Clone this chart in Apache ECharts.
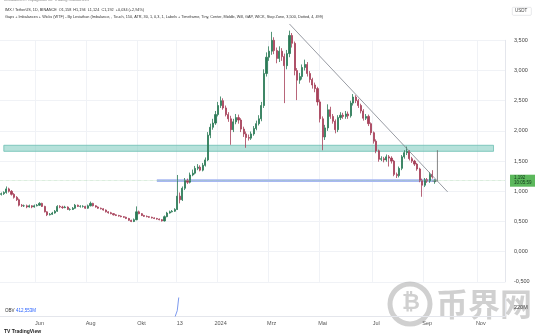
<!DOCTYPE html>
<html>
<head>
<meta charset="utf-8">
<script src="https://cdn.jsdelivr.net/npm/echarts@6/dist/echarts.min.js"></script>
<style>
  html, body { margin: 0; padding: 0; background: #ffffff; }
  #chart { width: 540px; height: 336px; }
</style>
</head>
<body>
<div id="chart"></div>
<script>
// IMX / TetherUS — price bars grouped in 3-day steps
const startDate = '2023-04-17';
const stepDays = 3;
const slotCount = 198;

const opens = [
  0.95,0.96,0.98,1.04,1.00,0.95,0.90,0.86,0.77,0.76,
  0.76,0.74,0.76,0.74,0.76,0.77,0.80,0.75,0.66,0.61,
  0.62,0.64,0.67,0.75,0.74,0.73,0.74,0.70,0.70,0.72,
  0.77,0.75,0.75,0.75,0.72,0.76,0.80,0.76,0.74,0.72,
  0.71,0.69,0.66,0.645,0.63,0.61,0.60,0.59,0.58,0.57,
  0.55,0.52,0.50,0.53,0.66,0.63,0.60,0.585,0.58,0.57,
  0.56,0.55,0.54,0.53,0.51,0.58,0.64,0.66,0.67,0.70,
  0.92,0.86,1.05,1.18,1.15,1.27,1.30,1.38,1.40,1.35,
  1.43,1.52,1.93,2.06,2.13,2.27,2.42,2.50,2.38,2.27,
  2.20,2.02,2.15,2.22,2.18,2.03,1.95,1.89,1.88,1.95,
  2.04,2.12,2.20,2.42,2.95,3.22,3.32,3.50,3.33,3.20,
  3.32,3.23,3.08,3.28,3.58,3.45,3.00,2.84,2.90,3.05,
  3.10,2.95,2.85,2.76,2.70,2.48,2.20,1.90,2.05,2.35,
  2.24,2.16,2.02,2.22,2.26,2.24,2.28,2.25,2.46,2.56,
  2.50,2.42,2.33,2.21,2.24,2.12,1.97,1.83,1.67,1.53,
  1.54,1.52,1.57,1.55,1.50,1.28,1.26,1.38,1.57,1.64,
  1.66,1.54,1.50,1.45,1.37,1.18,1.10,1.19,1.17,1.28,
  1.158
];
const closes = [
  0.96,0.98,1.04,1.00,0.95,0.90,0.86,0.77,0.76,0.76,
  0.74,0.76,0.74,0.76,0.77,0.80,0.75,0.66,0.61,0.62,
  0.64,0.67,0.75,0.74,0.73,0.74,0.70,0.70,0.72,0.77,
  0.75,0.75,0.75,0.72,0.76,0.80,0.76,0.74,0.72,0.71,
  0.69,0.66,0.645,0.63,0.61,0.60,0.59,0.58,0.57,0.55,
  0.52,0.50,0.53,0.66,0.63,0.60,0.585,0.58,0.57,0.56,
  0.55,0.54,0.53,0.51,0.58,0.64,0.66,0.67,0.70,0.92,
  0.86,1.05,1.18,1.15,1.27,1.30,1.38,1.40,1.35,1.43,
  1.52,1.93,2.06,2.13,2.27,2.42,2.50,2.38,2.27,2.20,
  2.02,2.15,2.22,2.18,2.03,1.95,1.89,1.88,1.95,2.04,
  2.12,2.20,2.42,2.95,3.22,3.32,3.50,3.33,3.20,3.32,
  3.23,3.08,3.28,3.58,3.45,3.00,2.84,2.90,3.05,3.10,
  2.95,2.85,2.76,2.70,2.48,2.20,1.90,2.05,2.35,2.24,
  2.16,2.02,2.22,2.26,2.24,2.28,2.25,2.46,2.56,2.50,
  2.42,2.33,2.21,2.24,2.12,1.97,1.83,1.67,1.53,1.54,
  1.52,1.57,1.55,1.50,1.28,1.26,1.38,1.57,1.64,1.66,
  1.54,1.50,1.45,1.37,1.18,1.10,1.19,1.17,1.28,1.24,
  1.192
];
const lows = [
  0.93,0.94,0.96,0.98,0.93,0.88,0.84,0.75,0.74,0.74,
  0.72,0.73,0.72,0.73,0.75,0.76,0.74,0.65,0.59,0.60,
  0.61,0.63,0.66,0.72,0.71,0.72,0.69,0.68,0.69,0.71,
  0.74,0.73,0.73,0.71,0.71,0.75,0.75,0.73,0.71,0.70,
  0.68,0.65,0.63,0.62,0.60,0.59,0.58,0.57,0.56,0.54,
  0.51,0.49,0.49,0.52,0.62,0.59,0.575,0.57,0.56,0.55,
  0.54,0.53,0.52,0.50,0.50,0.57,0.63,0.65,0.66,0.69,
  0.80,0.84,1.02,1.12,1.13,1.25,1.28,1.35,1.33,1.33,
  1.41,1.50,1.88,2.02,2.10,2.24,2.38,2.35,2.24,2.15,
  1.77,1.98,2.11,2.12,1.98,1.90,1.72,1.84,1.85,1.92,
  2.01,2.09,2.16,2.38,2.90,3.16,3.26,3.27,3.12,3.14,
  3.16,2.46,3.02,3.22,3.38,2.92,2.51,2.78,2.85,3.00,
  2.90,2.80,2.70,2.64,2.42,2.14,1.68,1.85,2.00,2.20,
  2.12,1.96,1.98,2.18,2.20,2.20,2.20,2.22,2.42,2.46,
  2.38,2.29,2.17,2.18,2.08,1.93,1.79,1.63,1.49,1.50,
  1.48,1.49,1.41,1.46,1.25,1.22,1.23,1.35,1.54,1.60,
  1.51,1.47,1.42,1.34,1.15,0.91,1.07,1.14,1.14,1.21,
  1.124
];
const highs = [
  0.98,1.00,1.08,1.06,1.02,0.97,0.92,0.88,0.79,0.78,
  0.78,0.78,0.77,0.78,0.79,0.82,0.81,0.76,0.67,0.64,
  0.66,0.69,0.77,0.77,0.76,0.76,0.75,0.72,0.74,0.79,
  0.78,0.77,0.77,0.76,0.78,0.83,0.81,0.77,0.75,0.73,
  0.72,0.70,0.67,0.66,0.64,0.62,0.61,0.60,0.59,0.58,
  0.56,0.53,0.55,0.75,0.68,0.64,0.61,0.60,0.59,0.58,
  0.57,0.56,0.55,0.54,0.60,0.66,0.68,0.69,0.72,1.27,
  0.98,1.08,1.22,1.21,1.31,1.36,1.42,1.45,1.43,1.47,
  1.56,1.98,2.12,2.20,2.33,2.48,2.57,2.54,2.42,2.31,
  2.25,2.20,2.28,2.27,2.21,2.07,1.99,1.94,1.99,2.08,
  2.17,2.26,2.48,3.02,3.30,3.40,3.64,3.55,3.38,3.40,
  3.37,3.28,3.34,3.66,3.62,3.48,3.04,2.96,3.10,3.18,
  3.14,2.99,2.88,2.80,2.73,2.52,2.24,2.10,2.44,2.40,
  2.28,2.19,2.26,2.31,2.30,2.33,2.32,2.50,2.61,2.59,
  2.53,2.45,2.36,2.28,2.27,2.14,1.99,1.86,1.69,1.58,
  1.57,1.61,1.60,1.58,1.52,1.31,1.41,1.60,1.68,1.74,
  1.68,1.57,1.52,1.47,1.39,1.21,1.22,1.22,1.32,1.35,
  1.194
];

// On-balance volume (millions), sparse readings
const obvDates = ['2023-04-17', '2023-11-07', '2023-11-10', '2023-11-13', '2024-09-08'];
const obvValues = [150, 196, 212, 262, 412.553];

// Month / year ticks along the time scale
const tickDates = ['2023-06-01','2023-08-01','2023-10-01','2023-11-13','2024-01-01','2024-03-01','2024-05-01','2024-07-01','2024-09-01','2024-11-01'];
const tickTexts = ['Jun','Aug','Okt','13','2024','Mrz','Mai','Jul','Sep','Nov'];

// Drawn zones and trend line
const supplyZone = { from: '2023-04-20', to: '2024-11-16', low: 1.662, high: 1.762 };
const demandZone = { from: '2023-10-17', to: '2024-09-08', low: 1.155, high: 1.200 };
const trendDates = ['2024-03-21', '2024-09-23'];
const trendPrices = [3.77, 0.99];
const arrowDates = ['2024-09-05', '2024-09-11', '2024-09-11'];
const arrowPrices = [1.17, 1.17, 1.68];

// ---- build category axis
function ymd(d) { return d.toISOString().slice(0, 10); }
const t0 = Date.parse(startDate + 'T00:00:00Z');
const DAY = 86400000;
const categories = [];
for (let i = 0; i < slotCount; i++) categories.push(ymd(new Date(t0 + i * stepDays * DAY)));

const tickAt = {};
tickDates.forEach((d, k) => {
  const t = Date.parse(d + 'T00:00:00Z');
  const idx = Math.floor((t - t0) / (stepDays * DAY));
  tickAt[idx] = tickTexts[k];
});

const candleData = closes.map((c, i) => [opens[i], c, lows[i], highs[i]]);
const lastClose = closes[closes.length - 1];

const fmtPrice = v => v.toFixed(3).replace('.', ',');
const FONT = 'Liberation Sans, Arial, sans-serif';
const UP = '#2a7a56';
const DOWN = '#a63f58';

const chart = echarts.init(document.getElementById('chart'), null, { renderer: 'canvas' });

chart.setOption({
  animation: false,
  backgroundColor: '#ffffff',
  textStyle: { fontFamily: FONT },
  grid: [
    { left: 0, width: 505, top: 40.3, height: 241.6 },
    { left: 0, width: 505, top: 298, height: 18 }
  ],
  xAxis: [
    {
      type: 'category', gridIndex: 0, data: categories, boundaryGap: true,
      axisLine: { show: false }, axisTick: { show: false }, axisLabel: { show: false },
      splitLine: { show: true, interval: i => tickAt[i + 1] !== undefined, lineStyle: { color: '#f0f2f6', width: 1 } }
    },
    {
      type: 'category', gridIndex: 1, data: categories, boundaryGap: true,
      axisLine: { show: true, lineStyle: { color: '#e4e6ec', width: 1 } },
      axisTick: { show: false },
      axisLabel: {
        show: true, interval: i => tickAt[i] !== undefined,
        formatter: (v, i) => tickAt[i] || '',
        fontSize: 5.5, color: '#555', margin: 4, fontFamily: FONT
      },
      splitLine: { show: false }
    }
  ],
  yAxis: [
    {
      type: 'value', gridIndex: 0, position: 'right', min: -0.5, max: 3.5, interval: 0.5,
      axisLine: { show: true, lineStyle: { color: '#e4e6ec' } }, axisTick: { show: false },
      axisLabel: { formatter: fmtPrice, fontSize: 5.5, color: '#444', margin: 9, fontFamily: FONT },
      splitLine: { show: true, lineStyle: { color: '#f0f2f6', width: 1 } }
    },
    {
      type: 'value', gridIndex: 1, position: 'right', min: 200, max: 240, interval: 20,
      axisLine: { show: true, lineStyle: { color: '#e4e6ec' } }, axisTick: { show: false },
      axisLabel: { formatter: v => (v === 220 ? '220M' : ''), fontSize: 5.5, color: '#444', margin: 9, fontFamily: FONT },
      splitLine: { show: false }
    }
  ],
  series: [
    {
      name: 'IMX', type: 'candlestick', xAxisIndex: 0, yAxisIndex: 0,
      data: candleData, barWidth: 1.6, clip: false,
      itemStyle: { color: UP, color0: DOWN, borderColor: UP, borderColor0: DOWN, borderWidth: 0.8 },
      markArea: {
        silent: true,
        data: [
          [{ xAxis: supplyZone.from, yAxis: supplyZone.high, itemStyle: { color: 'rgba(120,200,188,0.55)', borderColor: '#6bbfb2', borderWidth: 0.8, opacity: 1 } },
           { xAxis: supplyZone.to, yAxis: supplyZone.low }],
          [{ xAxis: demandZone.from, yAxis: demandZone.high, itemStyle: { color: '#a8b8f2', borderWidth: 0, opacity: 1 } },
           { xAxis: demandZone.to, yAxis: demandZone.low }]
        ]
      },
      markLine: {
        silent: true, symbol: 'none', label: { show: false },
        lineStyle: { color: '#9ccfa3', type: 'dotted', width: 0.6 },
        data: [{ yAxis: lastClose }]
      }
    },
    {
      name: 'Trend', type: 'line', xAxisIndex: 0, yAxisIndex: 0, clip: false,
      data: trendDates.map((d, i) => [d, trendPrices[i]]),
      symbol: 'none', lineStyle: { color: '#7d818c', width: 0.8 }
    },
    {
      name: 'Path', type: 'line', xAxisIndex: 0, yAxisIndex: 0,
      data: arrowDates.map((d, i) => ({ value: [d, arrowPrices[i]], symbol: i === arrowDates.length - 1 ? 'arrow' : 'none', symbolSize: [4, 4] })),
      showSymbol: true, itemStyle: { color: '#666' },
      lineStyle: { color: '#666', width: 0.8 }
    },
    {
      name: 'OBV', type: 'line', xAxisIndex: 1, yAxisIndex: 1,
      data: obvDates.map((d, i) => [d, obvValues[i]]),
      symbol: 'none', lineStyle: { color: '#5b7fe8', width: 0.8 }
    }
  ]
});

// overlays: header, price tag, OBV caption, branding
const yLast = chart.convertToPixel({ yAxisIndex: 0 }, lastClose);
chart.setOption({
  graphic: [
    { type: 'text', left: 4, top: -2, style: { text: 'Imbalances Propagation for Trading Imbalances', font: '4px ' + FONT, fill: '#888' } },
    { type: 'text', left: 5, top: 8, style: { text: 'IMX / TetherUS, 1D, BINANCE  O1,158  H1,194  L1,124  C1,192  +0,034 (+2,94%)', font: '3.8px ' + FONT, fill: '#333' } },
    { type: 'text', left: 5, top: 15, style: { text: 'Gaps + Imbalances + Wicks (WTF) - By Leviathan (Imbalance, , Touch, 150, ATR, 30, 1, 0,3, 1, Labels + Timeframe, Tiny, Center, Middle, Will, GAP, WICK, Stop Zone, 3,500, Dotted, 4, 499)', font: '3.8px ' + FONT, fill: '#333' } },
    { type: 'rect', left: 512, top: 7, shape: { width: 19, height: 8, r: 1 }, style: { fill: '#fff', stroke: '#d6d8de', lineWidth: 0.6 } },
    { type: 'text', left: 515, top: 8.5, style: { text: 'USDT', font: '4.5px ' + FONT, fill: '#444' } },
    { type: 'rect', left: 510, top: yLast - 5, shape: { width: 25, height: 12 }, style: { fill: '#5cb85c' } },
    { type: 'text', left: 514, top: yLast - 4, style: { text: fmtPrice(lastClose) + '\n10:05:59', font: '4.5px ' + FONT, fill: '#10391a', lineHeight: 5 } },
    { type: 'text', left: 5, top: 308, style: { text: 'OBV', font: '4.5px ' + FONT, fill: '#333' } },
    { type: 'text', left: 16, top: 308, style: { text: '412,553M', font: '4.5px ' + FONT, fill: '#2962ff' } },
    { type: 'text', left: 4, top: 329, style: { text: 'TV TradingView', font: 'bold 5px ' + FONT, fill: '#222' } },
    { type: 'circle', shape: { cx: 410, cy: 304, r: 20 }, style: { fill: 'none', stroke: 'rgba(150,150,150,0.45)', lineWidth: 5 } },
    { type: 'text', left: 402, top: 292, style: { text: '₿', font: 'bold 22px ' + FONT, fill: 'rgba(150,150,150,0.45)' } },
    { type: 'text', left: 436, top: 288, style: { text: '币界网', font: 'bold 32px "Noto Sans CJK SC"', fill: 'rgba(150,150,150,0.45)' } }
  ]
});
</script>
</body>
</html>
